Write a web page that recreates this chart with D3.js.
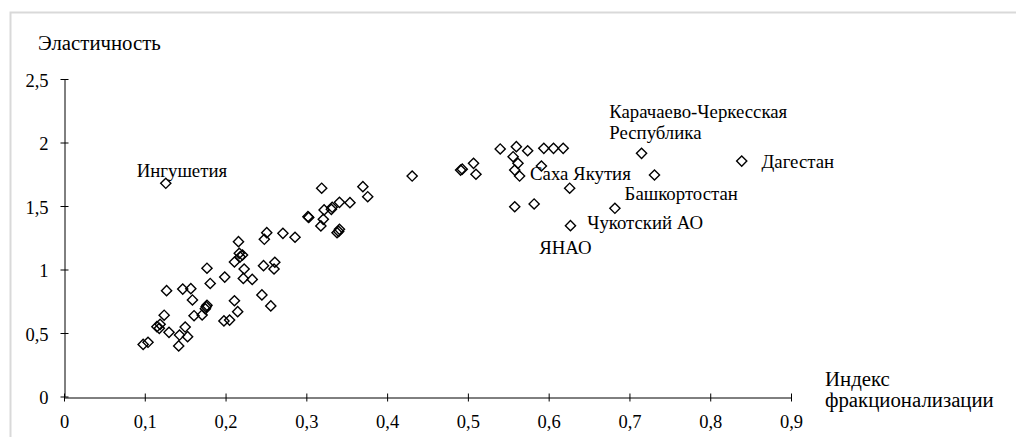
<!DOCTYPE html>
<html>
<head>
<meta charset="utf-8">
<title>Эластичность и индекс фракционализации</title>
<script src="https://d3js.org/d3.v7.min.js"></script>
<style>
  body { margin: 0; background: #fff; }
  svg { display: block; }
</style>
</head>
<body>
<svg width="1016" height="437"></svg>
<script>
    const width = 1016;
    const height = 437;

    // index of fractionalization (x) and elasticity (y), one point per region
    const fracIndex = [
        0.098, 0.104, 0.127, 0.124, 0.115, 0.118, 0.119, 0.130, 0.143, 0.142,
        0.150, 0.153, 0.147, 0.157, 0.159, 0.161, 0.171, 0.176, 0.177, 0.175,
        0.177, 0.181, 0.199, 0.198, 0.205, 0.211, 0.215, 0.211, 0.216, 0.217,
        0.221, 0.218, 0.223, 0.222, 0.233, 0.245, 0.256, 0.247, 0.261, 0.260,
        0.248, 0.251, 0.271, 0.286, 0.302, 0.303, 0.318, 0.321, 0.319, 0.322,
        0.331, 0.332, 0.341, 0.354, 0.338, 0.341, 0.340, 0.370, 0.376, 0.431,
        0.491, 0.493, 0.507, 0.510, 0.540, 0.560, 0.574, 0.556, 0.562, 0.558,
        0.564, 0.591, 0.594, 0.606, 0.618, 0.558, 0.582, 0.626, 0.627, 0.682,
        0.715, 0.731, 0.839, 0.126
    ];
    const elasticity = [
        0.410, 0.427, 0.833, 0.640, 0.550, 0.537, 0.568, 0.505, 0.484, 0.398,
        0.547, 0.471, 0.846, 0.849, 0.760, 0.636, 0.642, 0.707, 0.718, 0.690,
        1.010, 0.890, 0.940, 0.595, 0.602, 0.754, 0.668, 1.059, 1.219, 1.127,
        1.114, 1.100, 1.004, 0.930, 0.922, 0.800, 0.713, 1.030, 1.057, 1.004,
        1.238, 1.290, 1.285, 1.254, 1.416, 1.410, 1.343, 1.395, 1.640, 1.469,
        1.474, 1.490, 1.529, 1.526, 1.290, 1.316, 1.300, 1.652, 1.573, 1.736,
        1.783, 1.790, 1.836, 1.750, 1.949, 1.967, 1.935, 1.888, 1.836, 1.783,
        1.736, 1.815, 1.954, 1.954, 1.954, 1.494, 1.516, 1.640, 1.345, 1.482,
        1.915, 1.744, 1.854, 1.679
    ];

    const xTicks = [0, 0.1, 0.2, 0.3, 0.4, 0.5, 0.6, 0.7, 0.8, 0.9];
    const yTicks = [0, 0.5, 1, 1.5, 2, 2.5];

    // region captions, anchored in data units (left edge, baseline)
    const labelText = ["Ингушетия", "Карачаево-Черкесская", "Республика", "Дагестан",
        "Саха Якутия", "Башкортостан", "Чукотский АО", "ЯНАО"];
    const labelX = [0.090, 0.675, 0.675, 0.8635, 0.577, 0.694, 0.6477, 0.5883];
    const labelY = [1.731, 2.193, 2.028, 1.799, 1.705, 1.547, 1.319, 1.122];

    const points = fracIndex.map((v, i) => ({ x: v, y: elasticity[i] }));
    const labels = labelText.map((t, i) => ({ text: t, x: labelX[i], y: labelY[i] }));

    const FONT = "'Liberation Serif', 'Times New Roman', serif";
    const tickSize = 18.5;
    const labelSize = 18.8;
    const titleSize = 20.8;

    const margin = { left: 64, right: 225, top: 79, bottom: 40.5 };

    const x = d3.scaleLinear().domain([0, 0.9]).range([margin.left, width - margin.right]);
    const y = d3.scaleLinear().domain([0, 2.5]).range([height - margin.bottom, margin.top]);

    const fmt = d => d3.format("")(d).replace(".", ",");

    const svg = d3.select("svg");

    // outer chart frame (only top and left edges fall inside the picture)
    svg.append("rect")
        .attr("x", 10.5).attr("y", 12.5)
        .attr("width", 1020).attr("height", 440)
        .attr("fill", "none")
        .attr("stroke", "#d9d9d9")
        .attr("stroke-width", 2);

    const xAxis = svg.append("g")
        .attr("transform", `translate(0,${Math.round(y(0)) + 0.5})`)
        .call(d3.axisBottom(x).tickValues(xTicks).tickFormat(fmt).tickSizeInner(4).tickSizeOuter(0).tickPadding(13));
    xAxis.selectAll(".tick line").attr("y1", -4);

    const yAxis = svg.append("g")
        .attr("transform", `translate(${margin.left + 0.5},0)`)
        .call(d3.axisLeft(y).tickValues(yTicks).tickFormat(fmt).tickSizeInner(4).tickSizeOuter(0).tickPadding(12));
    yAxis.selectAll(".tick line").attr("x1", 4);
    yAxis.selectAll(".tick text").attr("dy", "0.38em");

    svg.selectAll("g").attr("font-family", FONT).attr("font-size", tickSize);
    svg.selectAll(".domain").attr("stroke", "#000");
    svg.selectAll(".tick line").attr("stroke", "#000");

    const addText = (tx, ty, s) => svg.append("text")
        .attr("x", tx).attr("y", ty)
        .attr("font-family", FONT).attr("font-size", titleSize)
        .attr("fill", "#000")
        .text(s);

    // axis titles
    addText(38, 50, "Эластичность");
    addText(825, 386, "Индекс");
    addText(825, 407, "фракционализации");

    // markers
    const diamond = d3.symbol(d3.symbolSquare, 52);
    svg.append("g")
        .selectAll("path")
        .data(points)
        .join("path")
        .attr("d", diamond)
        .attr("transform", d => `translate(${x(d.x)},${y(d.y)}) rotate(45)`)
        .attr("fill", "none")
        .attr("stroke", "#000")
        .attr("stroke-width", 1.4);

    svg.append("g")
        .selectAll("text")
        .data(labels)
        .join("text")
        .attr("x", d => x(d.x))
        .attr("y", d => y(d.y))
        .attr("font-family", FONT).attr("font-size", labelSize)
        .attr("fill", "#000")
        .text(d => d.text);
</script>
</body>
</html>
